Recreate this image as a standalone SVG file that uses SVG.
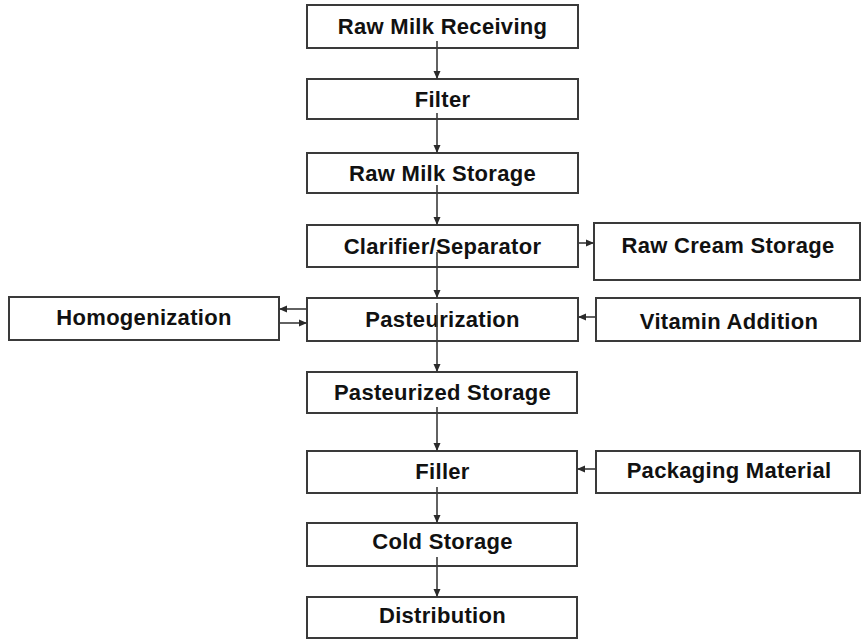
<svg xmlns="http://www.w3.org/2000/svg" width="862" height="639" viewBox="0 0 862 639">
<style>
.box{fill:#fff;stroke:#3a3a3a;stroke-width:2}
.lbl{font-family:"Liberation Sans",Arial,sans-serif;font-weight:bold;font-size:22px;letter-spacing:0.3px;fill:#111;text-anchor:middle}
.con{stroke:#3a3a3a;stroke-width:1.6;fill:none;marker-end:url(#ah)}
</style>
<defs>
<marker id="ah" markerUnits="userSpaceOnUse" markerWidth="9" markerHeight="8" refX="8" refY="4" orient="auto">
<path d="M0,0.5 L8,4 L0,7.5 Z" fill="#2a2a2a"/>
</marker>
</defs>
<rect width="862" height="639" fill="#fff"/>
<g id="raw-milk-receiving"><rect class="box" x="307" y="5" width="271" height="43"/><text class="lbl" x="442.5" y="34">Raw Milk Receiving</text></g>
<g id="filter"><rect class="box" x="307" y="79" width="271" height="40"/><text class="lbl" x="442.5" y="106.5">Filter</text></g>
<g id="raw-milk-storage"><rect class="box" x="307" y="153" width="271" height="40"/><text class="lbl" x="442.5" y="180.5">Raw Milk Storage</text></g>
<g id="clarifier-separator"><rect class="box" x="307" y="225" width="271" height="42"/><text class="lbl" x="442.5" y="253.5">Clarifier/Separator</text></g>
<g id="raw-cream-storage"><rect class="box" x="594" y="223" width="266" height="57"/><text class="lbl" x="728" y="253">Raw Cream Storage</text></g>
<g id="homogenization"><rect class="box" x="9" y="297" width="270" height="43"/><text class="lbl" x="144" y="325">Homogenization</text></g>
<g id="pasteurization"><rect class="box" x="307" y="298" width="271" height="43"/><text class="lbl" x="442.5" y="327">Pasteurization</text></g>
<g id="vitamin-addition"><rect class="box" x="596" y="298" width="264" height="43"/><text class="lbl" x="729" y="329">Vitamin Addition</text></g>
<g id="pasteurized-storage"><rect class="box" x="307" y="372" width="270" height="41"/><text class="lbl" x="442.5" y="399.5">Pasteurized Storage</text></g>
<g id="filler"><rect class="box" x="307" y="451" width="270" height="42"/><text class="lbl" x="442.5" y="478.5">Filler</text></g>
<g id="packaging-material"><rect class="box" x="596" y="451" width="264" height="42"/><text class="lbl" x="729" y="477.5">Packaging Material</text></g>
<g id="cold-storage"><rect class="box" x="307" y="523" width="270" height="43"/><text class="lbl" x="442.5" y="549">Cold Storage</text></g>
<g id="distribution"><rect class="box" x="307" y="597" width="270" height="41"/><text class="lbl" x="442.5" y="623">Distribution</text></g>
<g id="connectors">
<line class="con" x1="437" y1="41" x2="437" y2="79"/>
<line class="con" x1="437" y1="113" x2="437" y2="153"/>
<line class="con" x1="437" y1="185" x2="437" y2="225"/>
<line class="con" x1="437" y1="252" x2="437" y2="298"/>
<line class="con" x1="437" y1="303" x2="437" y2="372"/>
<line class="con" x1="437" y1="407" x2="437" y2="451"/>
<line class="con" x1="437" y1="487" x2="437" y2="523"/>
<line class="con" x1="437" y1="557" x2="437" y2="597"/>
<line class="con" x1="578" y1="243" x2="594" y2="243"/>
<line class="con" x1="596" y1="317" x2="578" y2="317"/>
<line class="con" x1="307" y1="309" x2="279" y2="309"/>
<line class="con" x1="279" y1="323" x2="307" y2="323"/>
<line class="con" x1="596" y1="469" x2="577" y2="469"/>
</g>
</svg>
